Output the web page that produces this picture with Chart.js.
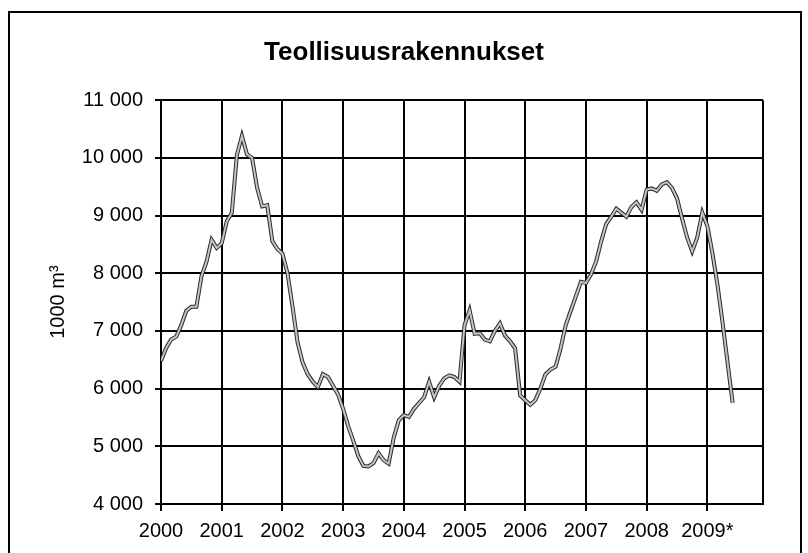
<!DOCTYPE html>
<html>
<head>
<meta charset="utf-8">
<script src="https://cdn.jsdelivr.net/npm/chart.js@4/dist/chart.umd.min.js"></script>
<style>
  html, body { margin: 0; padding: 0; background: #fff; }
  #wrap { position: relative; width: 808px; height: 553px; }
</style>
</head>
<body>
<div id="wrap"><canvas id="chart" width="808" height="553"></canvas></div>
<script>
// year labels shown under the axis, one every 12 months
const yearLabels = ['2000', '2001', '2002', '2003', '2004', '2005', '2006', '2007', '2008', '2009*'];
const yTicks = [4000, 5000, 6000, 7000, 8000, 9000, 10000, 11000];

// monthly values, Jan 2000 .. Jun 2009 (1000 m3)
const values2000 = [6480, 6700, 6850, 6900, 7100, 7350, 7420, 7420, 7950, 8200, 8580, 8440];
const values2001 = [8520, 8900, 9050, 10050, 10380, 10060, 10000, 9480, 9160, 9180, 8560, 8420];
const values2002 = [8340, 8000, 7420, 6800, 6450, 6250, 6120, 6030, 6250, 6200, 6050, 5900];
const values2003 = [5650, 5350, 5100, 4830, 4660, 4650, 4710, 4880, 4760, 4700, 5150, 5450];
const values2004 = [5540, 5510, 5650, 5750, 5850, 6120, 5850, 6050, 6180, 6230, 6200, 6120];
const values2005 = [7100, 7360, 6950, 6960, 6850, 6820, 7000, 7130, 6920, 6820, 6700, 5880];
const values2006 = [5800, 5720, 5800, 6000, 6250, 6330, 6380, 6700, 7100, 7350, 7600, 7850];
const values2007 = [7830, 7980, 8200, 8550, 8850, 8980, 9120, 9050, 8980, 9150, 9230, 9100];
const values2008 = [9450, 9470, 9430, 9540, 9580, 9480, 9300, 8950, 8620, 8380, 8620, 9050];
const values2009 = [8820, 8350, 7800, 7150, 6450, 5750];

const monthly = [].concat(values2000, values2001, values2002, values2003, values2004,
    values2005, values2006, values2007, values2008, values2009);
const points = monthly.map((v, i) => ({ x: i, y: v }));

const fmt = v => String(v).replace(/\B(?=(\d{3})+(?!\d))/g, ' ');
const FONT = "'Liberation Sans', Arial, sans-serif";

// frame round the plot and the outer box
const framePlugin = {
    id: 'frame',
    beforeDraw(chart) {
        const ctx = chart.ctx;
        ctx.save();
        ctx.fillStyle = '#fff';
        ctx.fillRect(0, 0, chart.width, chart.height);
        ctx.strokeStyle = '#000';
        ctx.lineWidth = 2;
        ctx.strokeRect(9, 12, 792, 560);
        ctx.restore();
    },
    afterDraw(chart) {
        const a = chart.chartArea;
        const ctx = chart.ctx;
        ctx.save();
        ctx.strokeStyle = '#000';
        ctx.lineWidth = 2;
        ctx.beginPath();
        ctx.moveTo(a.right, a.top);
        ctx.lineTo(a.right, a.bottom);
        ctx.stroke();
        ctx.restore();
    }
};

new Chart(document.getElementById('chart'), {
    type: 'line',
    data: {
        datasets: [
            {
                data: points,
                borderColor: '#2a2a2a',
                borderWidth: 4,
                pointRadius: 0,
                tension: 0,
                order: 2
            },
            {
                data: points,
                borderColor: '#c4c4c4',
                borderWidth: 2,
                pointRadius: 0,
                tension: 0,
                order: 1
            }
        ]
    },
    options: {
        responsive: false,
        animation: false,
        layout: { padding: { left: 45, right: 45, top: 0, bottom: 0 } },
        plugins: {
            legend: { display: false },
            tooltip: { enabled: false },
            title: {
                display: true,
                text: 'Teollisuusrakennukset',
                color: '#000',
                font: { family: FONT, size: 26, weight: 'bold' },
                padding: { top: 37, bottom: 32 }
            }
        },
        scales: {
            x: {
                type: 'linear',
                min: 0,
                max: 119,
                afterBuildTicks: scale => {
                    scale.ticks = yearLabels.map((_, i) => ({ value: i * 12 }));
                },
                afterFit: scale => { scale.height = 49; },
                ticks: {
                    color: '#000',
                    font: { family: FONT, size: 20 },
                    padding: 8,
                    maxRotation: 0,
                    autoSkip: false,
                    callback: v => yearLabels[Math.round(v / 12)]
                },
                grid: { color: '#000', lineWidth: 2, tickLength: 7 },
                border: { color: '#000', width: 2 }
            },
            y: {
                min: 4000,
                max: 11000,
                afterBuildTicks: scale => {
                    scale.ticks = yTicks.map(v => ({ value: v }));
                },
                afterFit: scale => { scale.width = 116; },
                ticks: {
                    color: '#000',
                    font: { family: FONT, size: 20 },
                    padding: 12,
                    callback: v => fmt(v)
                },
                grid: { color: '#000', lineWidth: 2, tickLength: 6 },
                border: { color: '#000', width: 2 },
                title: {
                    display: true,
                    text: '1000 m³',
                    color: '#000',
                    font: { family: FONT, size: 20 },
                    padding: { top: 1, bottom: 0 }
                }
            }
        }
    },
    plugins: [framePlugin]
});
</script>
</body>
</html>
